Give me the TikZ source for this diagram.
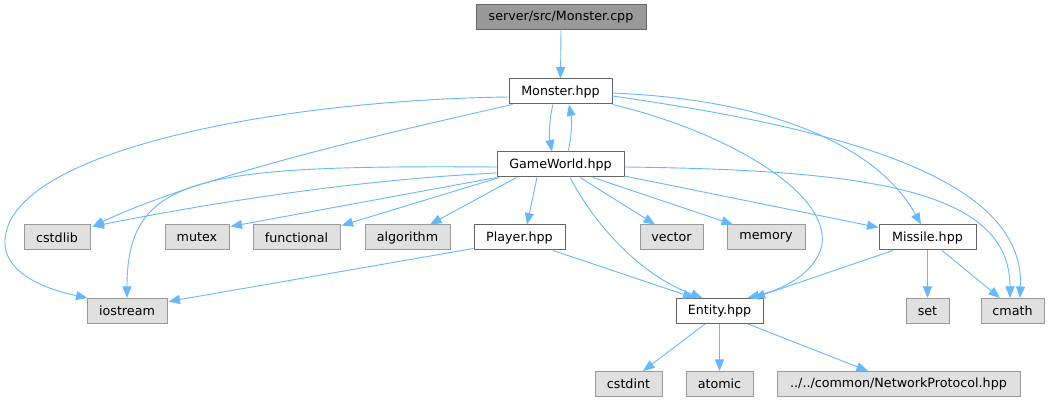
\documentclass[tikz,border=0pt]{standalone}
\usepackage{fontspec}
\setmainfont{DejaVu Sans}
\usetikzlibrary{arrows.meta}
\definecolor{edgec}{HTML}{63B8FF}
\definecolor{extfill}{HTML}{E0E0E0}
\definecolor{extdraw}{HTML}{999999}
\definecolor{intdraw}{HTML}{666666}
\definecolor{rootfill}{HTML}{999999}
\begin{document}
\begin{tikzpicture}[x=1pt,y=-1pt,
  box/.style={rectangle, inner sep=0pt, minimum height=25pt, line width=1pt,
    font=\fontsize{12.7}{15}\selectfont, text=black},
  intbox/.style={box, fill=white, draw=intdraw},
  extbox/.style={box, fill=extfill, draw=extdraw},
  rootbox/.style={box, fill=rootfill, draw=intdraw},
  dep/.style={draw=edgec, line width=0.9pt, -{Triangle[length=11.5pt,width=9pt]}}]
\useasboundingbox (0,0) rectangle (1050,403);
\fill[white] (0,0) rectangle (1050,403);
% nodes
\node[rootbox, minimum width=170pt] (cpp) at (561,17.5) {server/src/Monster.cpp};
\node[intbox, minimum width=103pt] (mh) at (560.5,91.5) {Monster.hpp};
\node[intbox, minimum width=127pt] (gw) at (560.5,164.5) {GameWorld.hpp};
\node[extbox, minimum width=66pt] (cstdlib) at (57,237.5) {cstdlib};
\node[extbox, minimum width=64pt] (mutex) at (197,237.5) {mutex};
\node[extbox, minimum width=87pt] (functional) at (296.5,237.5) {functional};
\node[extbox, minimum width=85pt] (algorithm) at (407.5,237.5) {algorithm};
\node[intbox, minimum width=91pt] (player) at (519.5,237.5) {Player.hpp};
\node[extbox, minimum width=63pt] (vector) at (671.5,237.5) {vector};
\node[extbox, minimum width=78pt] (memory) at (766,237.5) {memory};
\node[intbox, minimum width=97pt] (missile) at (927.5,237.5) {Missile.hpp};
\node[extbox, minimum width=80pt] (iostream) at (127,311) {iostream};
\node[intbox, minimum width=87pt] (entity) at (719.5,311) {Entity.hpp};
\node[extbox, minimum width=43pt] (set) at (927.5,311) {set};
\node[extbox, minimum width=63pt] (cmath) at (1012.5,311) {cmath};
\node[extbox, minimum width=67pt] (cstdint) at (628.5,384) {cstdint};
\node[extbox, minimum width=67pt] (atomic) at (719.5,384) {atomic};
\node[extbox, minimum width=243pt] (np) at (898.5,384) {../../common/NetworkProtocol.hpp};
% edges
\draw[dep] (cpp.south) -- (mh.north);
\draw[dep] ([xshift=-7.5pt]mh.south) .. controls (549,120) and (549,136) .. ([xshift=-8.5pt]gw.north);
\draw[dep] ([xshift=7.5pt]gw.north) .. controls (572,136) and (572,120) .. ([xshift=8.5pt]mh.south);
\draw[dep] ([yshift=-5.5pt]mh.west) .. controls (280,100) and (10,150) .. (5,240) .. controls (3,275) and (50,290) .. ([xshift=1pt]iostream.north west);
\draw[dep] ([xshift=4pt]mh.south west) .. controls (400,130) and (200,175) .. ([xshift=2pt,yshift=-2pt]cstdlib.north east);
\draw[dep] (mh.south east) .. controls (720,130) and (830,190) .. (822,245) .. controls (815,275) and (780,290) .. ([xshift=28pt]entity.north);
\draw[dep] ([yshift=-1.5pt]mh.east) .. controls (780,100) and (880,150) .. ([xshift=-6.5pt]missile.north);
\draw[dep] ([yshift=-4.5pt]mh.east) .. controls (850,130) and (1025,180) .. ([xshift=7.5pt]cmath.north);
% GameWorld
\draw[dep] ([yshift=-2.5pt]gw.west) .. controls (200,165) and (127,175) .. (iostream.north);
\draw[dep] ([yshift=-8.5pt]gw.west) .. controls (350,180) and (200,205) .. ([xshift=2pt,yshift=-2pt]cstdlib.north east);
\draw[dep] (gw.south west) -- ([xshift=1pt,yshift=-2pt]mutex.north east);
\draw[dep] ([xshift=3pt]gw.south west) -- ([xshift=1pt,yshift=-1pt]functional.north east);
\draw[dep] ([xshift=20pt]gw.south west) -- ([xshift=22.5pt]algorithm.north);
\draw[dep] ([xshift=-23.5pt]gw.south) -- ([xshift=7.5pt]player.north);
\draw[dep] ([xshift=9.5pt]gw.south) .. controls (595,225) and (640,275) .. ([xshift=-17pt]entity.north);
\draw[dep] ([xshift=19.5pt]gw.south) -- ([xshift=-16.5pt]vector.north);
\draw[dep] ([xshift=32.5pt]gw.south) -- ([xshift=-33pt]memory.north);
\draw[dep] ([yshift=-11.5pt]gw.east) -- ([yshift=-3pt]missile.north west);
\draw[dep] ([yshift=-2.5pt]gw.east) .. controls (870,170) and (1010,190) .. ([xshift=-2.5pt]cmath.north);
% Player
\draw[dep] ([yshift=2pt]player.south west) -- ([xshift=1pt,yshift=-3.5pt]iostream.north east);
\draw[dep] ([xshift=33.5pt]player.south) -- ([xshift=-25pt]entity.north);
% Missile
\draw[dep] ([xshift=-34.5pt]missile.south) -- ([xshift=34pt]entity.north);
\draw[dep] (missile.south) -- (set.north);
\draw[dep] ([xshift=14.5pt]missile.south) -- ([xshift=-12.5pt]cmath.north);
% Entity
\draw[dep] ([xshift=-14.5pt]entity.south) -- ([xshift=14.5pt]cstdint.north);
\draw[dep] (entity.south) -- (atomic.north);
\draw[dep] ([xshift=28.5pt]entity.south) -- ([xshift=-30.5pt]np.north);
\end{tikzpicture}
\end{document}
